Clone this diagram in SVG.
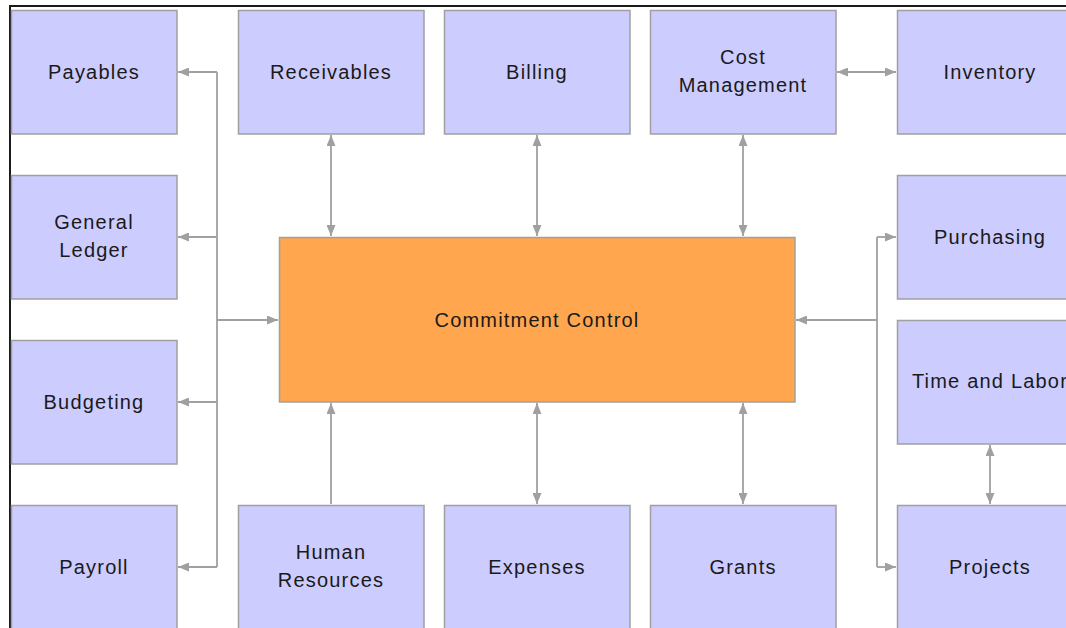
<svg xmlns="http://www.w3.org/2000/svg" width="1066" height="628" viewBox="0 0 1066 628">
<style>
.box{fill:#CCCCFF;stroke:#A0A0A0;stroke-width:1.5}
.core{fill:#FFA64F;stroke:#A0A0A0;stroke-width:1.5}
.lbl{font-family:"Liberation Sans",Arial,sans-serif;font-size:20px;letter-spacing:1.2px;fill:#1a1a1a;text-anchor:middle}
.c{fill:none;stroke:#A0A0A0;stroke-width:1.8}
.a1{marker-end:url(#ah)}
.a2{marker-start:url(#ah);marker-end:url(#ah)}
</style>
<defs>
<marker id="ah" markerUnits="userSpaceOnUse" markerWidth="11" markerHeight="9" refX="11" refY="4.5" orient="auto-start-reverse">
<path d="M0,0 L11,4.5 L0,9 z" fill="#A0A0A0"/>
</marker>
</defs>
<rect width="1066" height="628" fill="#fff"/>
<path d="M10,628 V6 H1066" fill="none" stroke="#1a1a1a" stroke-width="2"/>
<g id="connectors">
<path class="c" d="M217,72 V567"/>
<path class="c a1" d="M217,72 H178"/>
<path class="c a1" d="M217,237 H178"/>
<path class="c a1" d="M217,402 H178"/>
<path class="c a1" d="M217,567 H178"/>
<path class="c a1" d="M217,320 H278"/>
<path class="c" d="M877,237 V567"/>
<path class="c a1" d="M877,237 H896"/>
<path class="c a1" d="M877,567 H896"/>
<path class="c a1" d="M877,320 H796"/>
<path class="c a2" d="M331,135 V236"/>
<path class="c a2" d="M537,135 V236"/>
<path class="c a2" d="M743,135 V236"/>
<path class="c a1" d="M331,504 V403"/>
<path class="c a2" d="M537,403 V504"/>
<path class="c a2" d="M743,403 V504"/>
<path class="c a2" d="M990,445 V504"/>
<path class="c a2" d="M837,72 H896"/>
</g>
<g id="payables"><rect class="box" x="11.5" y="10.5" width="165.5" height="123.5"/><text class="lbl" x="94" y="79">Payables</text></g>
<g id="general-ledger"><rect class="box" x="11.5" y="175.5" width="165.5" height="123.5"/><text class="lbl" x="94" y="229">General</text><text class="lbl" x="94" y="257">Ledger</text></g>
<g id="budgeting"><rect class="box" x="11.5" y="340.5" width="165.5" height="123.5"/><text class="lbl" x="94" y="409">Budgeting</text></g>
<g id="payroll"><rect class="box" x="11.5" y="505.5" width="165.5" height="124"/><text class="lbl" x="94" y="574">Payroll</text></g>
<g id="receivables"><rect class="box" x="238.5" y="10.5" width="185.5" height="123.5"/><text class="lbl" x="331" y="79">Receivables</text></g>
<g id="billing"><rect class="box" x="444.5" y="10.5" width="185.5" height="123.5"/><text class="lbl" x="537" y="79">Billing</text></g>
<g id="cost-management"><rect class="box" x="650.5" y="10.5" width="185.5" height="123.5"/><text class="lbl" x="743" y="64">Cost</text><text class="lbl" x="743" y="92">Management</text></g>
<g id="inventory"><rect class="box" x="897.5" y="10.5" width="185.5" height="123.5"/><text class="lbl" x="990" y="79">Inventory</text></g>
<g id="purchasing"><rect class="box" x="897.5" y="175.5" width="185.5" height="123.5"/><text class="lbl" x="990" y="244">Purchasing</text></g>
<g id="time-and-labor"><rect class="box" x="897.5" y="320.5" width="185.5" height="123.5"/><text class="lbl" x="990" y="388">Time and Labor</text></g>
<g id="projects"><rect class="box" x="897.5" y="505.5" width="185.5" height="124"/><text class="lbl" x="990" y="574">Projects</text></g>
<g id="human-resources"><rect class="box" x="238.5" y="505.5" width="185.5" height="124"/><text class="lbl" x="331" y="559">Human</text><text class="lbl" x="331" y="587">Resources</text></g>
<g id="expenses"><rect class="box" x="444.5" y="505.5" width="185.5" height="124"/><text class="lbl" x="537" y="574">Expenses</text></g>
<g id="grants"><rect class="box" x="650.5" y="505.5" width="185.5" height="124"/><text class="lbl" x="743" y="574">Grants</text></g>
<g id="commitment-control"><rect class="core" x="279.5" y="237.5" width="515.5" height="164.5"/><text class="lbl" x="537" y="327">Commitment Control</text></g>
</svg>
